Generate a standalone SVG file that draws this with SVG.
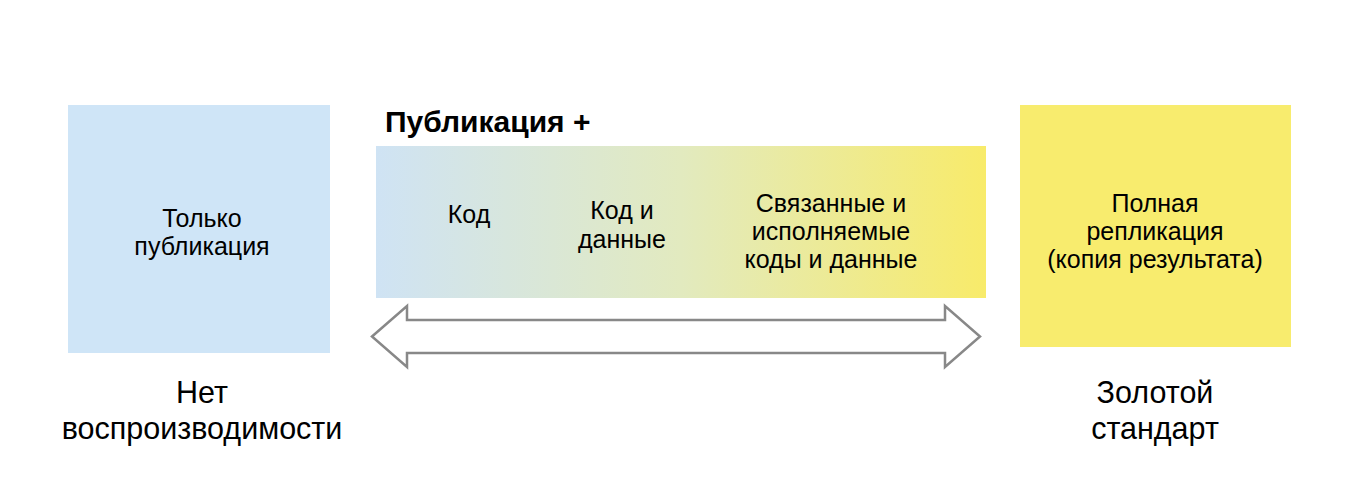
<svg xmlns="http://www.w3.org/2000/svg" width="1352" height="482" viewBox="0 0 1352 482">
<defs>
<linearGradient id="grad" x1="0" y1="0" x2="1" y2="0">
<stop offset="0" stop-color="#cfe3f4"/>
<stop offset="0.5" stop-color="#e2eabf"/>
<stop offset="1" stop-color="#f8eb6a"/>
</linearGradient>
<style>
text{font-family:"Liberation Sans",Arial,sans-serif;fill:#000;text-anchor:middle}
.n{font-size:25px}
.b{font-size:30.5px}
.t{font-size:30px;font-weight:bold;text-anchor:start}
</style>
</defs>
<rect width="1352" height="482" fill="#fff"/>
<g id="node-none">
<rect x="68" y="105" width="262" height="248" fill="#cfe5f7"/>
<text class="n" x="202" y="227">Только</text>
<text class="n" x="202" y="255">публикация</text>
</g>
<g id="node-plus">
<text class="t" x="385" y="132">Публикация +</text>
<rect x="376" y="146" width="610" height="152" fill="url(#grad)"/>
<text class="n" x="469" y="223">Код</text>
<text class="n" x="622" y="219">Код и</text>
<text class="n" x="622" y="248">данные</text>
<text class="n" x="831" y="212">Связанные и</text>
<text class="n" x="831" y="240">исполняемые</text>
<text class="n" x="831" y="268">коды и данные</text>
</g>
<g id="node-full">
<rect x="1020" y="105" width="271" height="242" fill="#f8ec6e"/>
<text class="n" x="1155" y="212">Полная</text>
<text class="n" x="1155" y="240">репликация</text>
<text class="n" x="1155" y="268">(копия результата)</text>
</g>
<g id="label-left">
<text class="b" x="202" y="403">Нет</text>
<text class="b" x="202" y="439">воспроизводимости</text>
</g>
<g id="label-right">
<text class="b" x="1155" y="403">Золотой</text>
<text class="b" x="1155" y="439">стандарт</text>
</g>
<g id="connectors">
<path d="M372,336.5 L407,306 L407,320 L945,320 L945,306 L980,336.5 L945,367 L945,353 L407,353 L407,367 Z" fill="#fff" stroke="#888" stroke-width="2.5" stroke-linejoin="miter"/>
</g>
</svg>
